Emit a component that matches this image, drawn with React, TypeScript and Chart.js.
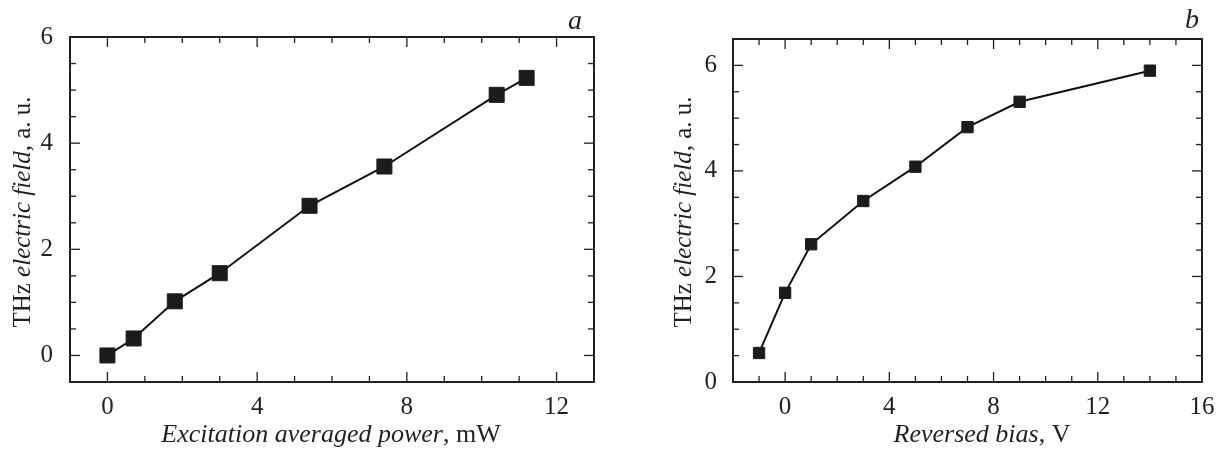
import React, { useEffect, useRef } from "react";
import { Chart, registerables } from "chart.js";

Chart.register(...registerables);

// ---- data ----
const powerX = [0, 0.7, 1.8, 3.0, 5.4, 7.4, 10.4, 11.2];
const powerY = [0, 0.32, 1.02, 1.55, 2.82, 3.56, 4.91, 5.23];
const biasX = [-1, 0, 1, 3, 5, 7, 9, 14];
const biasY = [0.55, 1.69, 2.61, 3.43, 4.08, 4.83, 5.31, 5.9];

const powerXTicks = [0, 4, 8, 12];
const powerYTicks = [0, 2, 4, 6];
const biasXTicks = [0, 4, 8, 12, 16];
const biasYTicks = [0, 2, 4, 6];

const INK = "#231f20";
const FONT = "'Liberation Serif', 'DejaVu Serif', serif";
const TICK_FS = 25;

type Seg = { t: string; i?: boolean };

function drawSegs(
  ctx: CanvasRenderingContext2D,
  segs: Seg[],
  cx: number,
  cy: number,
  rot: number,
  fs: number
) {
  ctx.save();
  ctx.translate(cx, cy);
  ctx.rotate(rot);
  ctx.fillStyle = INK;
  ctx.textBaseline = "middle";
  ctx.textAlign = "left";
  const widths = segs.map((s) => {
    ctx.font = `${s.i ? "italic " : ""}${fs}px ${FONT}`;
    return ctx.measureText(s.t).width;
  });
  const total = widths.reduce((a, b) => a + b, 0);
  let x = -total / 2;
  segs.forEach((s, k) => {
    ctx.font = `${s.i ? "italic " : ""}${fs}px ${FONT}`;
    ctx.fillText(s.t, x, 0);
    x += widths[k];
  });
  ctx.restore();
}

const framePlugin = {
  id: "frameTicks",
  afterDraw(chart: any, _args: any, opts: any) {
    const { ctx, chartArea: a, scales } = chart;
    const x = scales.x;
    const y = scales.y;
    ctx.save();
    ctx.strokeStyle = INK;
    ctx.lineWidth = 1.3;
    const seg = (x1: number, y1: number, x2: number, y2: number) => {
      ctx.beginPath();
      ctx.moveTo(x1, y1);
      ctx.lineTo(x2, y2);
      ctx.stroke();
    };
    const isMajor = (v: number, m: number) => Math.abs(v / m - Math.round(v / m)) < 1e-6;
    const nx = Math.round((x.max - x.min) / opts.xMinor);
    for (let k = 0; k <= nx; k++) {
      const v = x.min + k * opts.xMinor;
      const px = x.getPixelForValue(v);
      const len = isMajor(v, opts.xMajor) ? 10 : 6;
      seg(px, a.bottom, px, a.bottom - len);
      seg(px, a.top, px, a.top + len);
    }
    const ny = Math.round((y.max - y.min) / opts.yMinor);
    for (let k = 0; k <= ny; k++) {
      const v = y.min + k * opts.yMinor;
      const py = y.getPixelForValue(v);
      const len = isMajor(v, opts.yMajor) ? 10 : 6;
      seg(a.left, py, a.left + len, py);
      seg(a.right, py, a.right - len, py);
    }
    ctx.lineWidth = 2;
    ctx.strokeRect(a.left, a.top, a.right - a.left, a.bottom - a.top);
    ctx.restore();

    drawSegs(ctx, opts.yTitle, opts.yTitlePos[0], opts.yTitlePos[1], -Math.PI / 2, opts.yTitleSize);
    drawSegs(ctx, opts.xTitle, opts.xTitlePos[0], opts.xTitlePos[1], 0, opts.xTitleSize);
    drawSegs(ctx, [{ t: opts.letter, i: true }], opts.letterPos[0], opts.letterPos[1], 0, 28);
  },
};

type PanelProps = {
  xs: number[];
  ys: number[];
  xTicks: number[];
  yTicks: number[];
  xMin: number;
  xMax: number;
  yMin: number;
  yMax: number;
  yAxisWidth: number;
  padRight: number;
  padTop: number;
  xAxisHeight: number;
  radius: number;
  yLabelPad: number;
  frame: any;
};

function Panel(p: PanelProps) {
  const ref = useRef<HTMLCanvasElement | null>(null);
  useEffect(() => {
    if (!ref.current) return;
    const chart = new Chart(ref.current, {
      type: "scatter",
      data: {
        datasets: [
          {
            data: p.xs.map((v, i) => ({ x: v, y: p.ys[i] })),
            showLine: true,
            borderColor: "#111111",
            borderWidth: 2,
            backgroundColor: "#1b1b1b",
            pointStyle: "rect",
            pointRadius: p.radius,
            pointBorderWidth: 1,
            pointBorderColor: "#1b1b1b",
            pointBackgroundColor: "#1b1b1b",
          },
        ],
      },
      options: {
        responsive: false,
        animation: false,
        events: [],
        layout: { padding: { left: 0, right: p.padRight, top: p.padTop, bottom: 0 } },
        plugins: {
          legend: { display: false },
          tooltip: { enabled: false },
          frameTicks: p.frame,
        } as any,
        scales: {
          x: {
            type: "linear",
            min: p.xMin,
            max: p.xMax,
            grid: { display: false },
            border: { display: false },
            afterBuildTicks: (s: any) => {
              s.ticks = p.xTicks.map((v) => ({ value: v }));
            },
            afterFit: (s: any) => {
              s.height = p.xAxisHeight;
            },
            ticks: {
              color: INK,
              font: { family: FONT, size: TICK_FS },
              padding: 2,
              maxRotation: 0,
              autoSkip: false,
            },
          },
          y: {
            type: "linear",
            min: p.yMin,
            max: p.yMax,
            grid: { display: false },
            border: { display: false },
            afterBuildTicks: (s: any) => {
              s.ticks = p.yTicks.map((v) => ({ value: v }));
            },
            afterFit: (s: any) => {
              s.width = p.yAxisWidth;
            },
            ticks: {
              color: INK,
              font: { family: FONT, size: TICK_FS },
              padding: p.yLabelPad,
              autoSkip: false,
            },
          },
        },
      },
      plugins: [framePlugin],
    } as any);
    return () => chart.destroy();
  }, []);
  return <canvas ref={ref} width={609} height={450} style={{ display: "block", width: 609, height: 450 }} />;
}

export default function App() {
  return (
    <div
      style={{
        position: "absolute",
        left: 0,
        top: 0,
        width: 1218,
        height: 450,
        background: "#ffffff",
        display: "flex",
        flexDirection: "row",
      }}
    >
      <Panel
        xs={powerX}
        ys={powerY}
        xTicks={powerXTicks}
        yTicks={powerYTicks}
        xMin={-1}
        xMax={13}
        yMin={-0.5}
        yMax={6}
        yAxisWidth={70}
        padRight={15}
        padTop={37}
        xAxisHeight={68}
        radius={10.6}
        yLabelPad={9}
        frame={{
          xMinor: 1,
          xMajor: 4,
          yMinor: 0.5,
          yMajor: 2,
          yTitle: [{ t: "THz " }, { t: "electric field", i: true }, { t: ", a. u." }],
          yTitlePos: [23, 212],
          yTitleSize: 25,
          xTitle: [{ t: "Excitation averaged power", i: true }, { t: ", mW" }],
          xTitlePos: [331, 435],
          xTitleSize: 26,
          letter: "a",
          letterPos: [575, 22],
        }}
      />
      <Panel
        xs={biasX}
        ys={biasY}
        xTicks={biasXTicks}
        yTicks={biasYTicks}
        xMin={-2}
        xMax={16}
        yMin={0}
        yMax={6.5}
        yAxisWidth={124}
        padRight={16}
        padTop={39}
        xAxisHeight={68}
        radius={8}
        yLabelPad={8}
        frame={{
          xMinor: 1,
          xMajor: 4,
          yMinor: 0.5,
          yMajor: 2,
          yTitle: [{ t: "THz " }, { t: "electric field", i: true }, { t: ", a. u." }],
          yTitlePos: [75, 212],
          yTitleSize: 25,
          xTitle: [{ t: "Reversed bias", i: true }, { t: ", V" }],
          xTitlePos: [373, 435],
          xTitleSize: 26,
          letter: "b",
          letterPos: [583, 21],
        }}
      />
    </div>
  );
}
